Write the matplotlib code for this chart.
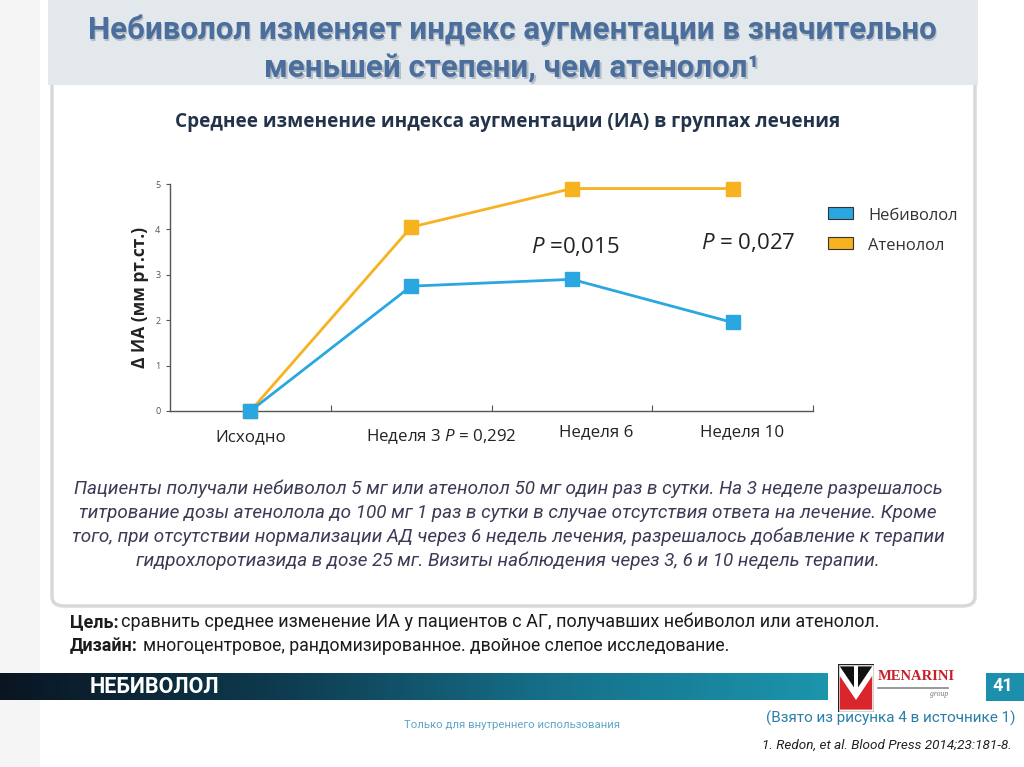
import matplotlib
matplotlib.use("Agg")
import matplotlib.pyplot as plt
import numpy as np
from matplotlib.patches import FancyBboxPatch, Rectangle, Polygon
from matplotlib.colors import LinearSegmentedColormap

# данные
categories = ["Исходно", "Неделя 3 $\\mathit{P}$ = 0,292", "Неделя 6", "Неделя 10"]
nebivolol = [0.0, 2.75, 2.9, 1.95]
atenolol = [0.0, 4.05, 4.9, 4.9]
p_labels = ["$\\mathit{P}$ =0,015", "$\\mathit{P}$ = 0,027"]
series_names = ["Небиволол", "Атенолол"]
yticks = [0, 1, 2, 3, 4, 5]

C_BLUE = "#2aa7e0"
C_ORANGE = "#f6b21f"
NARROW = ["Roboto", "DejaVu Sans"]

plt.rcParams["font.family"] = ["Open Sans", "DejaVu Sans"]
plt.rcParams["mathtext.fontset"] = "custom"
plt.rcParams["mathtext.it"] = "Open Sans:italic"
plt.rcParams["mathtext.rm"] = "Open Sans"

W, H = 1024, 767
fig = plt.figure(figsize=(W / 100, H / 100), dpi=100)
fig.patch.set_facecolor("white")


def fx(px):
    return px / W


def fy(py):
    return 1 - py / H


# фон слайда: карточка и полоса заголовка
fig.patches.append(FancyBboxPatch((fx(52), fy(606)), fx(975 - 52), fy(0) - fy(606) + 0.02,
                                  boxstyle="round,pad=0,rounding_size=0.012",
                                  transform=fig.transFigure, facecolor="white",
                                  edgecolor="#d8d8d8", linewidth=2.5, zorder=-5))
fig.patches.append(Rectangle((fx(48), fy(85)), fx(978 - 48), fy(0) - fy(85),
                             transform=fig.transFigure, facecolor="#e3e8ec",
                             edgecolor="none", zorder=-4))
fig.patches.append(Rectangle((fx(0), fy(767)), fx(40), 1, transform=fig.transFigure,
                             facecolor="#f5f5f5", edgecolor="none", zorder=-5))

# заголовок
for txt, yy in [("Небиволол изменяет индекс аугментации в значительно", 30),
                ("меньшей степени, чем атенолол¹", 68)]:
    fig.text(0.5 + 0.0015, fy(yy) - 0.002, txt, ha="center", va="center", fontsize=22.5,
             fontweight="bold", color="#9aa4ae", family=NARROW, alpha=0.6)
    fig.text(0.5, fy(yy), txt, ha="center", va="center", fontsize=22.5,
             fontweight="bold", color="#4b6e9c", family=NARROW)

fig.text(fx(508), fy(122), "Среднее изменение индекса аугментации (ИА) в группах лечения",
         ha="center", va="center", fontsize=13.7, fontweight="bold", color="#23334a")

# график
ax = fig.add_axes([fx(170), fy(411), fx(813 - 170), fy(184) - fy(411)])
ax.patch.set_alpha(0)
x = np.arange(len(categories))
ax.plot(x, atenolol, color=C_ORANGE, lw=2, marker="s", ms=9.5, mec=C_ORANGE, zorder=3,
        clip_on=False)
ax.plot(x, nebivolol, color=C_BLUE, lw=2, marker="s", ms=9.5, mec=C_BLUE, zorder=4,
        clip_on=False)
ax.set_xlim(-0.5, len(categories) - 0.5)
ax.set_ylim(0, 5)
ax.set_yticks(yticks)
ax.tick_params(axis="y", labelsize=6.5, labelcolor="#555555", length=3, color="#555555", pad=4)
ax.set_xticks(np.arange(len(categories)) + 0.5)
ax.set_xticklabels([])
ax.tick_params(axis="x", length=4, color="#555555", direction="in")
for s in ["top", "right"]:
    ax.spines[s].set_visible(False)
for s in ["left", "bottom"]:
    ax.spines[s].set_color("#555555")
    ax.spines[s].set_linewidth(1)
ax.set_ylabel("Δ ИА (мм рт.ст.)", fontsize=12.5, fontweight="bold", color="#222222", labelpad=4)

# подписи категорий
label_dx = [0, 0.19, 0.15, 0.06]
label_dy = [-0.115, -0.115, -0.095, -0.095]
for i, lab in enumerate(categories):
    ax.text(i + label_dx[i], label_dy[i], lab, transform=ax.get_xaxis_transform(),
            ha="center", va="center", fontsize=12.2, color="#222222")

# P-значения
ax.text(2.02, 3.63, p_labels[0], ha="center", va="center", fontsize=16, color="#222222")
ax.text(3.1, 3.72, p_labels[1], ha="center", va="center", fontsize=16, color="#222222")

# легенда
for i, (nm, c) in enumerate(zip(series_names, [C_BLUE, C_ORANGE])):
    yy = 213 + i * 30
    fig.patches.append(Rectangle((fx(828), fy(yy + 6)), fx(25), fy(yy - 6) - fy(yy + 6),
                                 transform=fig.transFigure, facecolor=c,
                                 edgecolor="#333333", linewidth=0.8))
    fig.text(fx(868), fy(yy + 3), nm, ha="left", va="center", fontsize=11.9, color="#333333")

# описание
body = ["Пациенты получали небиволол 5 мг или атенолол 50 мг один раз в сутки. На 3 неделе разрешалось",
        "титрование дозы атенолола до 100 мг 1 раз в сутки в случае отсутствия ответа на лечение. Кроме",
        "того, при отсутствии нормализации АД через 6 недель лечения, разрешалось добавление к терапии",
        "гидрохлоротиазида в дозе 25 мг. Визиты наблюдения через 3, 6 и 10 недель терапии."]
for i, line in enumerate(body):
    fig.text(fx(508), fy(489 + 24 * i), line, ha="center", va="center", fontsize=13.6,
             style="italic", color="#3b3b55", family=NARROW)

fig.text(fx(70), fy(622), "Цель:", ha="left", va="center", fontsize=12.9,
         fontweight="bold", color="#1c1c1c", family=NARROW)
fig.text(fx(121), fy(622), "сравнить среднее изменение ИА у пациентов с АГ, получавших небиволол или атенолол.",
         ha="left", va="center", fontsize=13, color="#1c1c1c", family=NARROW)
fig.text(fx(70), fy(646), "Дизайн:", ha="left", va="center", fontsize=12.9,
         fontweight="bold", color="#1c1c1c", family=NARROW)
fig.text(fx(143), fy(646), "многоцентровое, рандомизированное. двойное слепое исследование.",
         ha="left", va="center", fontsize=12.7, color="#1c1c1c", family=NARROW)

# нижняя полоса
bar = fig.add_axes([0, fy(700), fx(828), fy(673) - fy(700)])
grad = np.linspace(0, 1, 256).reshape(1, -1)
cm_bar = LinearSegmentedColormap.from_list("bar", ["#0a1522", "#0e3a4e", "#16708a", "#1c95ad"])
bar.imshow(grad, aspect="auto", cmap=cm_bar, extent=[0, 1, 0, 1])
bar.axis("off")
fig.text(fx(90), fy(687), "НЕБИВОЛОЛ", ha="left", va="center", fontsize=15.5,
         fontweight="bold", color="white", family=NARROW)

# логотип
logo = fig.add_axes([fx(838), fy(712), fx(36), fy(664) - fy(712)])
logo.set_xlim(0, 1)
logo.set_ylim(0, 1)
logo.axis("off")
logo.add_patch(Rectangle((0, 0), 1, 1, facecolor="white", edgecolor="#222222", lw=1))
logo.add_patch(Polygon([(0.05, 0.95), (0.95, 0.95), (0.5, 0.45)], facecolor="#111111"))
logo.add_patch(Polygon([(0.05, 0.05), (0.05, 0.75), (0.5, 0.25), (0.95, 0.75), (0.95, 0.05)],
                       facecolor="#d9262c"))
logo.add_patch(Rectangle((0.44, 0.45), 0.12, 0.5, facecolor="white"))
fig.text(fx(878), fy(676), "MENARINI", ha="left", va="center", fontsize=10.5,
         fontweight="bold", color="#c8202a", family="Liberation Serif")
fig.add_artist(plt.Line2D([fx(878), fx(948)], [fy(688), fy(688)], color="#888888", lw=1.2))
fig.text(fx(948), fy(694), "group", ha="right", va="center", fontsize=5.5,
         style="italic", color="#777777", family="Liberation Serif")

fig.patches.append(Rectangle((fx(986), fy(701)), fx(1024 - 986), fy(673) - fy(701),
                             transform=fig.transFigure, facecolor="#1b8fab", edgecolor="none"))
fig.text(fx(1003), fy(686), "41", ha="center", va="center", fontsize=13,
         fontweight="bold", color="white", family=NARROW)

# источники
fig.text(fx(1016), fy(718), "(Взято из рисунка 4 в источнике 1)", ha="right", va="center",
         fontsize=11, color="#2a7fa8", family=NARROW)
fig.text(fx(512), fy(725), "Только для внутреннего использования", ha="center", va="center",
         fontsize=8.2, color="#5fa6c8", family=NARROW)
fig.text(fx(1012), fy(745), "1. Redon, et al. Blood Press 2014;23:181-8.", ha="right", va="center",
         fontsize=9.7, style="italic", color="#222222", family=NARROW)

fig.savefig("out.png", dpi=100)
